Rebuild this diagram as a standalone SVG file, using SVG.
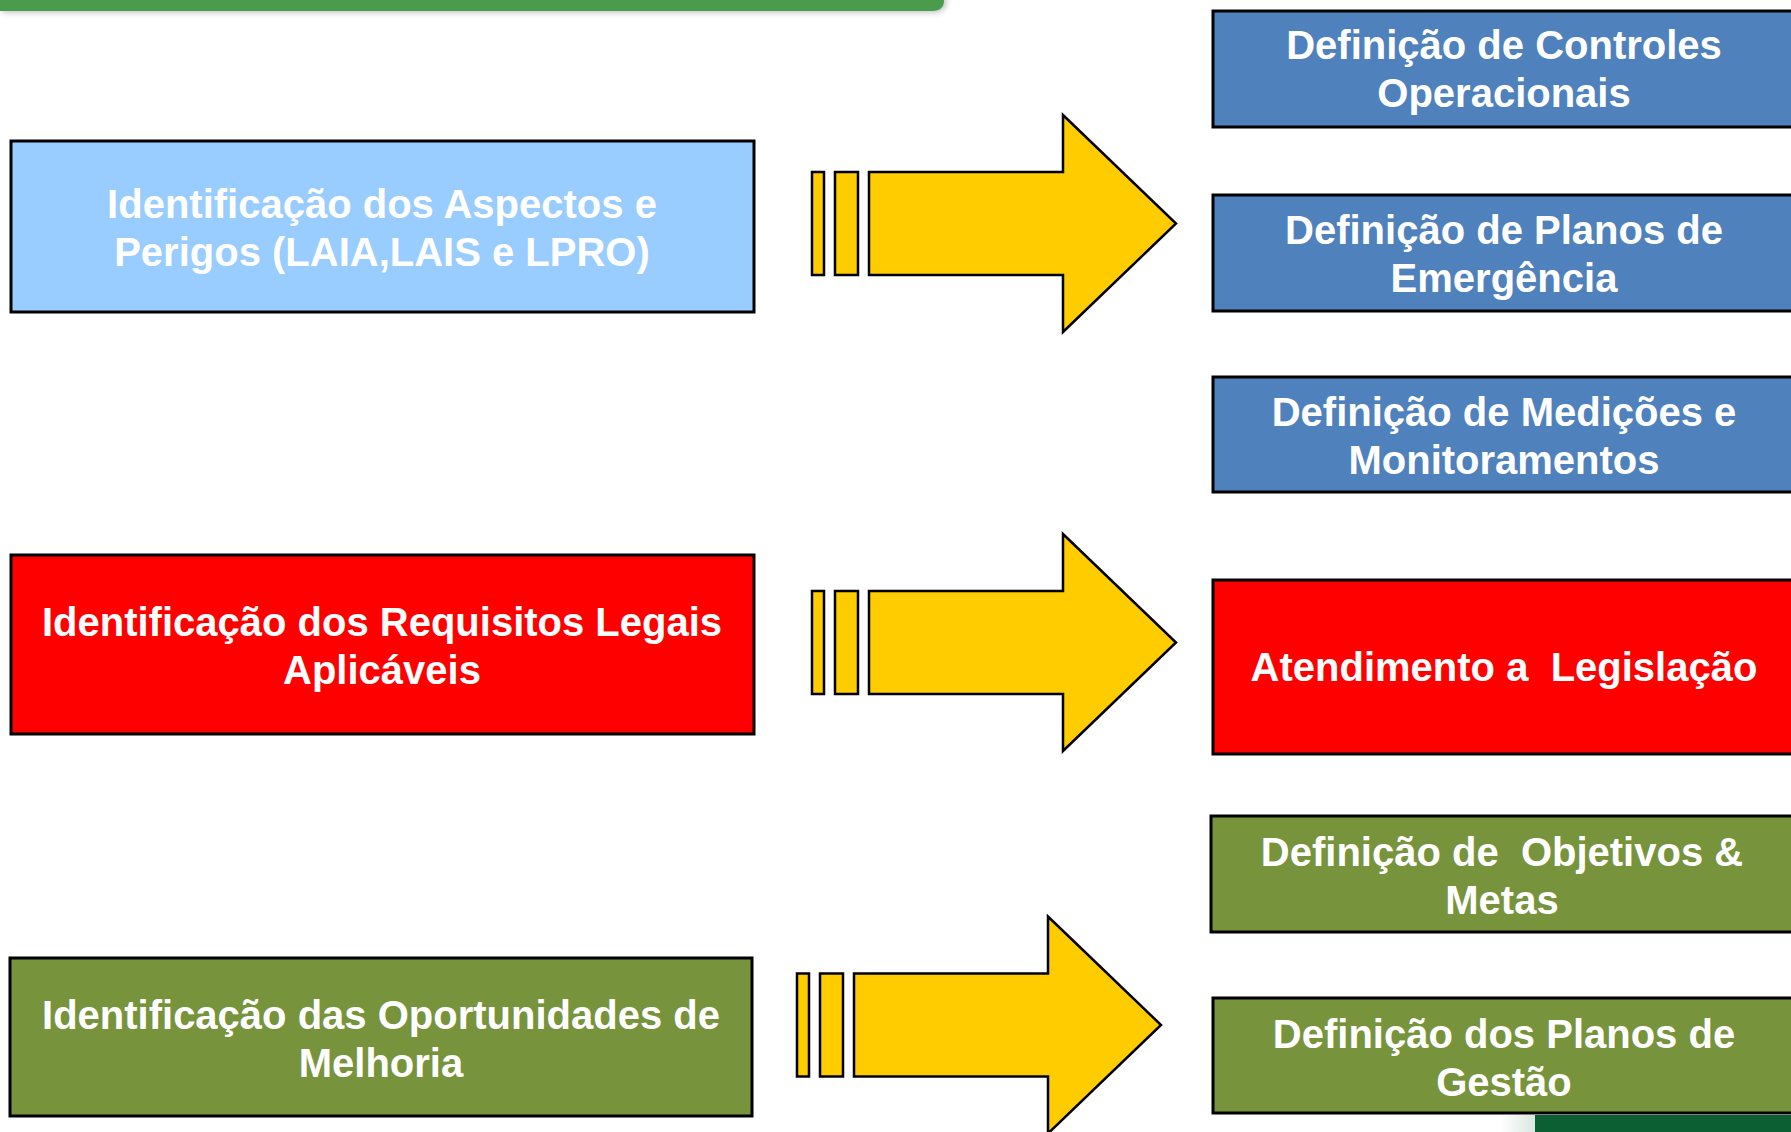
<svg xmlns="http://www.w3.org/2000/svg" width="1791" height="1132" viewBox="0 0 1791 1132">
<style>
.box{stroke:#000;stroke-width:3}
.t{font-family:"Liberation Sans",Arial,sans-serif;font-weight:bold;font-size:40px;fill:#fff;text-anchor:middle;white-space:pre}
.arr{fill:#FFCC00;stroke:#000;stroke-width:2.5;stroke-linejoin:miter}
</style>
<defs>
<filter id="sh" x="-5%" y="-50%" width="110%" height="400%">
<feGaussianBlur stdDeviation="3"/>
</filter>
<linearGradient id="dg" x1="0" y1="0" x2="1" y2="0">
<stop offset="0" stop-color="#ffffff"/>
<stop offset="0.8" stop-color="#0E5E33"/>
<stop offset="1" stop-color="#0B5E32"/>
</linearGradient>
<g id="arrow">
<rect class="arr" x="812" y="172" width="12" height="103"/>
<rect class="arr" x="835" y="172" width="23" height="103"/>
<path class="arr" d="M869,172 H1063 V115 L1176,223.5 L1063,332 V275 H869 Z"/>
</g>
</defs>
<rect width="1791" height="1132" fill="#fff"/>
<g id="topbar">
<path d="M0,5 H932 Q944,5 944,-6 V-10 H0 Z" fill="#888" opacity="0.6" filter="url(#sh)" transform="translate(2,7)"/>
<path d="M0,0 H944 V0 Q944,11 932,11 H0 Z" fill="#4A9B4D"/>
</g>
<g id="corner">
<rect x="1500" y="1115" width="291" height="17" fill="url(#dg)"/>
<rect x="1535" y="1115" width="256" height="17" fill="#0C5F33"/>
</g>
<g id="connectors">
<use href="#arrow"/>
<use href="#arrow" transform="translate(0,419)"/>
<use href="#arrow" transform="translate(-15,801.5)"/>
</g>
<g id="n1">
<rect class="box" x="11" y="141" width="743" height="171" fill="#99CCFF"/>
<text class="t" x="382" y="218">Identificação dos Aspectos e</text>
<text class="t" x="382" y="266">Perigos (LAIA,LAIS e LPRO)</text>
</g>
<g id="n2">
<rect class="box" x="11" y="555" width="743" height="179" fill="#FF0000"/>
<text class="t" x="382" y="636">Identificação dos Requisitos Legais</text>
<text class="t" x="382" y="684">Aplicáveis</text>
</g>
<g id="n3">
<rect class="box" x="10" y="958" width="742" height="158" fill="#77933C"/>
<text class="t" x="381" y="1029">Identificação das Oportunidades de</text>
<text class="t" x="381" y="1077">Melhoria</text>
</g>
<g id="r1">
<rect class="box" x="1213" y="11" width="590" height="116" fill="#4F81BD"/>
<text class="t" x="1504" y="59">Definição de Controles</text>
<text class="t" x="1504" y="107">Operacionais</text>
</g>
<g id="r2">
<rect class="box" x="1213" y="195" width="590" height="116" fill="#4F81BD"/>
<text class="t" x="1504" y="244">Definição de Planos de</text>
<text class="t" x="1504" y="292">Emergência</text>
</g>
<g id="r3">
<rect class="box" x="1213" y="377" width="590" height="115" fill="#4F81BD"/>
<text class="t" x="1504" y="426">Definição de Medições e</text>
<text class="t" x="1504" y="474">Monitoramentos</text>
</g>
<g id="r4">
<rect class="box" x="1213" y="580" width="590" height="174" fill="#FF0000"/>
<text class="t" x="1504" y="681">Atendimento a  Legislação</text>
</g>
<g id="r5">
<rect class="box" x="1211" y="816" width="592" height="116" fill="#77933C"/>
<text class="t" x="1502" y="866">Definição de  Objetivos &amp;</text>
<text class="t" x="1502" y="914">Metas</text>
</g>
<g id="r6">
<rect class="box" x="1213" y="998" width="590" height="115" fill="#77933C"/>
<text class="t" x="1504" y="1048">Definição dos Planos de</text>
<text class="t" x="1504" y="1096">Gestão</text>
</g>
</svg>
